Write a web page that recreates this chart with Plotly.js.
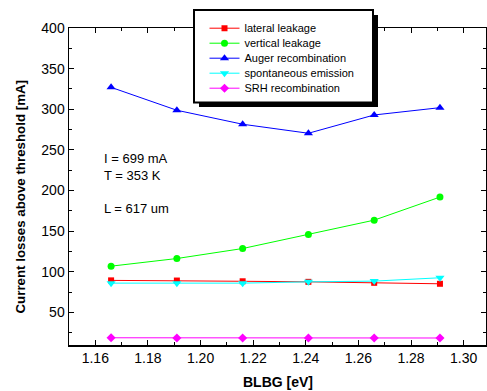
<!DOCTYPE html>
<html>
<head>
<meta charset="utf-8">
<script src="https://cdn.plot.ly/plotly-3.0.1.min.js"></script>
<style>html,body{margin:0;padding:0;background:#fff;}</style>
</head>
<body>
<div id="chart" style="width:487px;height:391px;"></div>
<script>
// ---- data ----
const blbg = [1.166, 1.191, 1.216, 1.241, 1.266, 1.291];          // BLBG [eV]
const lateralLeakage      = [89.5, 89.3, 88.4, 87.7, 86.5, 85.3];  // mA
const verticalLeakage     = [107, 116.4, 128.7, 145.9, 163.6, 192];
const augerRecombination  = [327, 298.8, 281.6, 270.5, 293, 302];
const spontaneousEmission = [86.1, 86.1, 86.1, 87.7, 88.6, 92.7];
const srhRecombination    = [18.9, 18.7, 18.6, 18.6, 18.7, 18.6];

const seriesNames  = ['lateral leakage', 'vertical leakage', 'Auger recombination',
                      'spontaneous emission', 'SRH recombination'];
const seriesValues = [lateralLeakage, verticalLeakage, augerRecombination,
                      spontaneousEmission, srhRecombination];
const seriesColors  = ['#ff0000', '#00ff00', '#0000ff', '#00ffff', '#ff00ff'];
const seriesSymbols = ['square', 'circle', 'triangle-up', 'triangle-down', 'diamond'];
const seriesSizes   = [6, 7, 8, 8, 7];

const conditionLabels = ['I = 699 mA', 'T = 353 K', 'L = 617 um'];
const xTitle = 'BLBG [eV]';
const yTitle = 'Current losses above threshold [mA]';

// ---- geometry helpers (pixel -> paper) ----
const W = 487, H = 391, ML = 69, MR = 1, MT = 28, MB = 46;
const PW = W - ML - MR, PH = H - MT - MB;
const px = x => (x - ML) / PW;
const py = y => (H - MB - y) / PH;
const LEGEND_ROW = 15;

const traces = seriesNames.map((name, i) => ({
  type: 'scatter',
  mode: 'lines+markers',
  name: name,
  x: blbg,
  y: seriesValues[i],
  line: {color: seriesColors[i], width: 1},
  marker: {color: seriesColors[i], symbol: seriesSymbols[i], size: seriesSizes[i],
           line: {width: 0}}
}));

const annPos = [158, 175, 208];
const annotations = conditionLabels.map((t, i) => ({
  text: t, xref: 'paper', yref: 'paper', x: px(102), y: py(annPos[i]),
  xanchor: 'left', yanchor: 'middle', showarrow: false,
  font: {size: 13, color: '#000'}
}));
annotations.push({
  text: '<b>' + yTitle + '</b>', xref: 'paper', yref: 'paper',
  x: px(20), y: py(197.5), xanchor: 'center', yanchor: 'middle',
  textangle: -90, showarrow: false, font: {size: 13.3, color: '#000'}
});
annotations.push({
  text: '<b>' + xTitle + '</b>', xref: 'paper', yref: 'paper',
  x: px(278), y: py(382), xanchor: 'center', yanchor: 'middle',
  showarrow: false, font: {size: 14, color: '#000'}
});

const axisCommon = {
  showline: true, linewidth: 1.5, linecolor: '#000', mirror: 'allticks',
  ticks: 'inside', ticklen: 5, tickwidth: 1, tickcolor: '#000',
  showgrid: false, zeroline: false, fixedrange: true,
  tickfont: {size: 14, color: '#000'}
};

const layout = {
  width: W, height: H,
  margin: {l: ML, r: MR, t: MT, b: MB, pad: 0},
  paper_bgcolor: '#fff', plot_bgcolor: '#fff',
  font: {family: 'Arial, "Liberation Sans", sans-serif', size: 13, color: '#000'},
  showlegend: true,
  legend: {
    x: px(204.5), y: py(13.7), xanchor: 'left', yanchor: 'top',
    bgcolor: 'rgba(0,0,0,0)', borderwidth: 0,
    font: {size: 11, color: '#000'}
  },
  xaxis: Object.assign({}, axisCommon, {
    range: [1.15, 1.3085], tick0: 1.16, dtick: 0.02, tickformat: '.2f',
    minor: {dtick: 0.01, tick0: 1.15, ticks: 'inside', ticklen: 3, tickwidth: 1, tickcolor: '#000', showgrid: false}
  }),
  yaxis: Object.assign({}, axisCommon, {
    range: [10, 400], tick0: 0, dtick: 50,
    minor: {dtick: 25, tick0: 0, ticks: 'inside', ticklen: 3, tickwidth: 1, tickcolor: '#000', showgrid: false}
  }),
  shapes: [
    {type: 'rect', xref: 'paper', yref: 'paper', layer: 'above',
     x0: px(199), x1: px(378), y0: py(107), y1: py(15),
     fillcolor: '#000', line: {width: 0}},
    {type: 'rect', xref: 'paper', yref: 'paper', layer: 'above',
     x0: px(194), x1: px(373), y0: py(102.5), y1: py(10),
     fillcolor: '#fff', line: {color: '#000', width: 2}}
  ],
  annotations: annotations
};

Plotly.newPlot('chart', traces, layout, {displayModeBar: false, staticPlot: true}).then(gd => {
  // tighten legend rows to the reference's row pitch
  const items = gd.querySelectorAll('.legend .traces');
  let y0 = null;
  items.forEach((el, i) => {
    const m = /translate\(\s*([-\d.eE]+)[ ,]+([-\d.eE]+)\s*\)/.exec(el.getAttribute('transform') || '');
    if (!m) return;
    if (y0 === null) y0 = parseFloat(m[2]);
    el.setAttribute('transform', 'translate(' + m[1] + ',' + (y0 + i * LEGEND_ROW) + ')');
  });
});
</script>
</body>
</html>
